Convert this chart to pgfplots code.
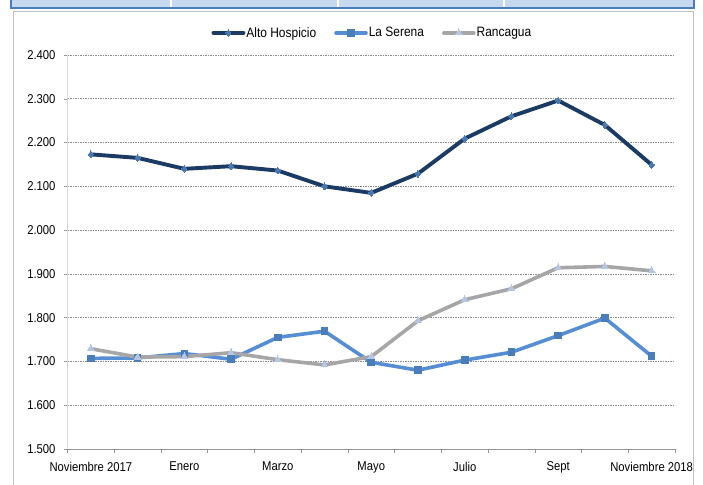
\documentclass[border=0pt]{standalone}
\usepackage{pgfplots}
\pgfplotsset{compat=1.18}
\usepackage{fontspec}
\setmainfont{Liberation Sans}
\newfontfamily\narrowfont[FakeStretch=0.88]{Liberation Sans}
\definecolor{navy}{HTML}{1B3A64}
\definecolor{navymark}{HTML}{4A78B0}
\definecolor{serena}{HTML}{558ED5}
\definecolor{serenamark}{HTML}{4A7EBB}
\definecolor{ranc}{HTML}{A6A6A6}
\definecolor{rancmark}{HTML}{B4C6E4}
\definecolor{barfill}{HTML}{C6D9F1}
\definecolor{barblue}{HTML}{4A7EBB}
\definecolor{framegray}{HTML}{BFBFBF}
\begin{document}
\begin{tikzpicture}[x=1pt,y=1pt]
\useasboundingbox (0,0) rectangle (703,484);
\begin{scope}
\clip (0,0) rectangle (703,484);
\fill[barfill] (11,476) rectangle (694,490);
\draw[white, line width=2pt] (171,477) -- (171,490) (338,477) -- (338,490) (504,477) -- (504,490);
\draw[barblue, line width=2.2pt] (11,476) rectangle (694,492);
\draw[framegray, line width=1pt] (13,-5) -- (13,472) -- (693,472) -- (693,-5);
\end{scope}
\begin{axis}[
  at={(67.5pt,35pt)}, anchor=south west,
  scale only axis, width=607.5pt, height=394pt,
  xmin=-0.5, xmax=12.5, ymin=1500, ymax=2400,
  axis lines*=left,
  x axis line style={draw=gray!85},
  y axis line style={draw=black!15},
  xtick={0,2,...,12},
  xticklabels={Noviembre 2017,Enero,Marzo,Mayo,Julio,Sept,Noviembre 2018},
  minor xtick={-0.5,0.5,...,12.5},
  x tick style={draw=none},
  minor x tick style={draw=gray!85, line width=0.6pt},
  minor tick length=4pt,
  tick align=outside,
  ytick={1500,1600,...,2400},
  yticklabels={1.500,1.600,1.700,1.800,1.900,2.000,2.100,2.200,2.300,2.400},
  y tick style={draw=gray!80, line width=0.5pt},
  major tick length=4pt,
  ymajorgrids,
  major grid style={draw=gray!90, dash pattern=on 1.5pt off 1pt, line width=0.6pt},
  tick label style={font=\narrowfont\fontsize{12.8}{14}\selectfont},
  xticklabel style={yshift=-5.5pt},
  yticklabel style={xshift=-4.5pt},
  legend columns=3,
  legend style={at={(rel axis cs:0.501,1.056)}, anchor=center, draw=none, fill=none,
    font=\narrowfont\fontsize{13.6}{15}\selectfont,
    nodes={inner xsep=1pt},
    /tikz/every even column/.append style={column sep=17pt}},
  legend image code/.code={\draw[mark repeat=2,mark phase=2,#1] plot coordinates {(0pt,0pt) (15pt,0pt) (30pt,0pt)};},
  every axis plot/.append style={line join=round, line cap=round},
]
\addplot[color=navy, line width=3.9pt, mark=diamond*, mark size=3.4pt,
  mark options={fill=navymark, draw=navymark, line width=0pt}]
  coordinates {(0,2173) (1,2165) (2,2140) (3,2146) (4,2136) (5,2100) (6,2085) (7,2129) (8,2209) (9,2260) (10,2296) (11,2240) (12,2149)};
\addlegendentry{Alto Hospicio}
\addplot[color=serena, line width=3.6pt, mark=square*, mark size=3.3pt,
  mark options={fill=serenamark, draw=serenamark, line width=0pt}]
  coordinates {(0,1707) (1,1708) (2,1718) (3,1705) (4,1755) (5,1769) (6,1698) (7,1680) (8,1703) (9,1721) (10,1759) (11,1799) (12,1712)};
\addlegendentry{La Serena}
\addplot[color=ranc, line width=3.6pt, mark=triangle*, mark size=4pt,
  mark options={fill=rancmark, draw=rancmark, line width=0pt}]
  coordinates {(0,1729) (1,1710) (2,1711) (3,1720) (4,1704) (5,1692) (6,1711) (7,1793) (8,1841) (9,1866) (10,1914) (11,1917) (12,1907)};
\addlegendentry{Rancagua}
\end{axis}
\end{tikzpicture}
\end{document}
